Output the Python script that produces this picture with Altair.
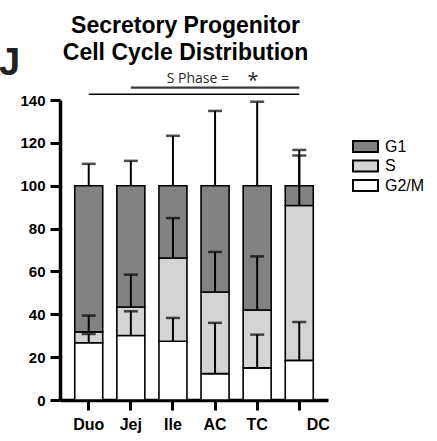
import altair as alt
import pandas as pd

categories = ["Duo", "Jej", "Ile", "AC", "TC", "DC"]
phases = ["G1", "S", "G2/M"]
phase_colors = ["#828282", "#d4d4d4", "#ffffff"]

g2m_mean = [26.7, 30.1, 27.4, 12.3, 15.0, 18.5]
s_mean = [5.1, 13.3, 38.9, 38.1, 27.0, 72.3]
g1_mean = [68.2, 56.6, 33.7, 49.6, 58.0, 9.2]
g2m_sd = [4.1, 11.3, 10.9, 23.7, 15.5, 17.9]
s_sd = [7.6, 15.1, 18.6, 18.7, 25.0, 23.3]
g1_sd = [10.2, 11.6, 23.3, 34.9, 39.2, 16.7]
y_ticks = [0, 20, 40, 60, 80, 100, 120, 140]

title_lines = ["Secretory Progenitor", "Cell Cycle Distribution"]
panel_label = "J"
sig_label = "S Phase ="
sig_star = "*"
sig_from = ["Duo", "Jej"]
sig_to = ["DC", "DC"]
sig_level = [142.7, 145.8]
sig_text_level = [148.0]

FONT = "Liberation Sans"

rows = []
for i, c in enumerate(categories):
    base = 0.0
    for ph, m, sd in (("G2/M", g2m_mean[i], g2m_sd[i]),
                      ("S", s_mean[i], s_sd[i]),
                      ("G1", g1_mean[i], g1_sd[i])):
        top = base + m
        rows.append(dict(region=c, phase=ph, base=base, top=top, err=top + sd))
        base = top
df = pd.DataFrame(rows)

sig_df = pd.DataFrame({"x1": sig_from, "x2": sig_to, "level": sig_level,
                       "col": ["#000000", "#3a3a3a"], "w": [1.5, 2.2]})
sig_text_df = pd.DataFrame({"region": ["AC"], "level": sig_text_level,
                            "label": [sig_label], "star": [sig_star]})

xscale = alt.Scale(domain=categories, paddingInner=0.335, paddingOuter=0.35)
yscale = alt.Scale(domain=[0, 140], nice=False)

x_axis = alt.Axis(title=None, labelAngle=0, labelFont=FONT, labelFontWeight="bold",
                  labelFontSize=16, labelColor="black", domainColor="black",
                  domainWidth=3.5, tickColor="black", tickWidth=3, tickSize=10,
                  labelPadding=6,
                  labelOffset={"condition": {"test": "datum.value == 'DC'", "value": 19}, "value": 0})
y_axis = alt.Axis(title=None, values=y_ticks, labelFont=FONT, labelFontWeight="bold",
                  labelFontSize=15, labelColor="black", domainColor="black",
                  domainWidth=3.5, tickColor="black", tickWidth=3, tickSize=10,
                  labelPadding=5, grid=False)

bars = alt.Chart(df).mark_bar(stroke="black", strokeWidth=1.6).encode(
    x=alt.X("region:N", scale=xscale, axis=x_axis, sort=categories),
    y=alt.Y("base:Q", scale=yscale, axis=y_axis),
    y2="top:Q",
    color=alt.Color("phase:N", scale=alt.Scale(domain=phases, range=phase_colors),
                    legend=alt.Legend(title=None, orient="none", legendX=292, legendY=39,
                                      symbolType="M-1,-0.44H1V0.44H-1Z", symbolSize=625,
                                      symbolStrokeColor="black", symbolStrokeWidth=2,
                                      labelFont=FONT, labelFontSize=16, labelColor="black",
                                      clipHeight=15, rowPadding=2.5, labelOffset=6,
                                      padding=0)),
)

err_lines = alt.Chart(df).mark_rule(color="black", strokeWidth=2).encode(
    x=alt.X("region:N", sort=categories), y="top:Q", y2="err:Q")
err_caps = alt.Chart(df).mark_tick(color="black", size=14, thickness=2.5).encode(
    x=alt.X("region:N", sort=categories), y="err:Q")

sig_rules = alt.Chart(sig_df).mark_rule().encode(
    x=alt.X("x1:N", sort=categories), x2="x2:N", y="level:Q",
    color=alt.Color("col:N", scale=None), strokeWidth=alt.StrokeWidth("w:Q", scale=None))
sig_txt = alt.Chart(sig_text_df).mark_text(font="Open Sans", fontSize=14, color="#2a2a2a",
                                           align="right", baseline="alphabetic", dx=14).encode(
    x=alt.X("region:N", sort=categories), y="level:Q", text="label:N")
sig_star_txt = alt.Chart(sig_text_df).mark_text(font="Open Sans", fontSize=20, color="#2a2a2a",
                                                align="center", baseline="alphabetic", dx=38, dy=4).encode(
    x=alt.X("region:N", sort=categories), y="level:Q", text="star:N")

one = pd.DataFrame({"a": [0]})
title = alt.Chart(one).mark_text(text=title_lines, font=FONT, fontWeight="bold", fontSize=23,
                                 align="center", baseline="alphabetic", lineHeight=27,
                                 color="black").encode(x=alt.value(125.5), y=alt.value(-67))
panel = alt.Chart(one).mark_text(text=panel_label, font=FONT, fontWeight="bold", fontSize=38,
                                 align="left", baseline="alphabetic", color="#222222").encode(
    x=alt.value(-61), y=alt.value(-25))

chart = alt.layer(bars, err_lines, err_caps, sig_rules, sig_txt, sig_star_txt, title, panel).properties(
    width=268, height=300,
    padding={"left": 60, "top": 100, "right": 109, "bottom": 41},
    autosize="none",
).configure_view(stroke=None)

chart.save("out.html", embed_options={"renderer": "svg", "actions": False})
